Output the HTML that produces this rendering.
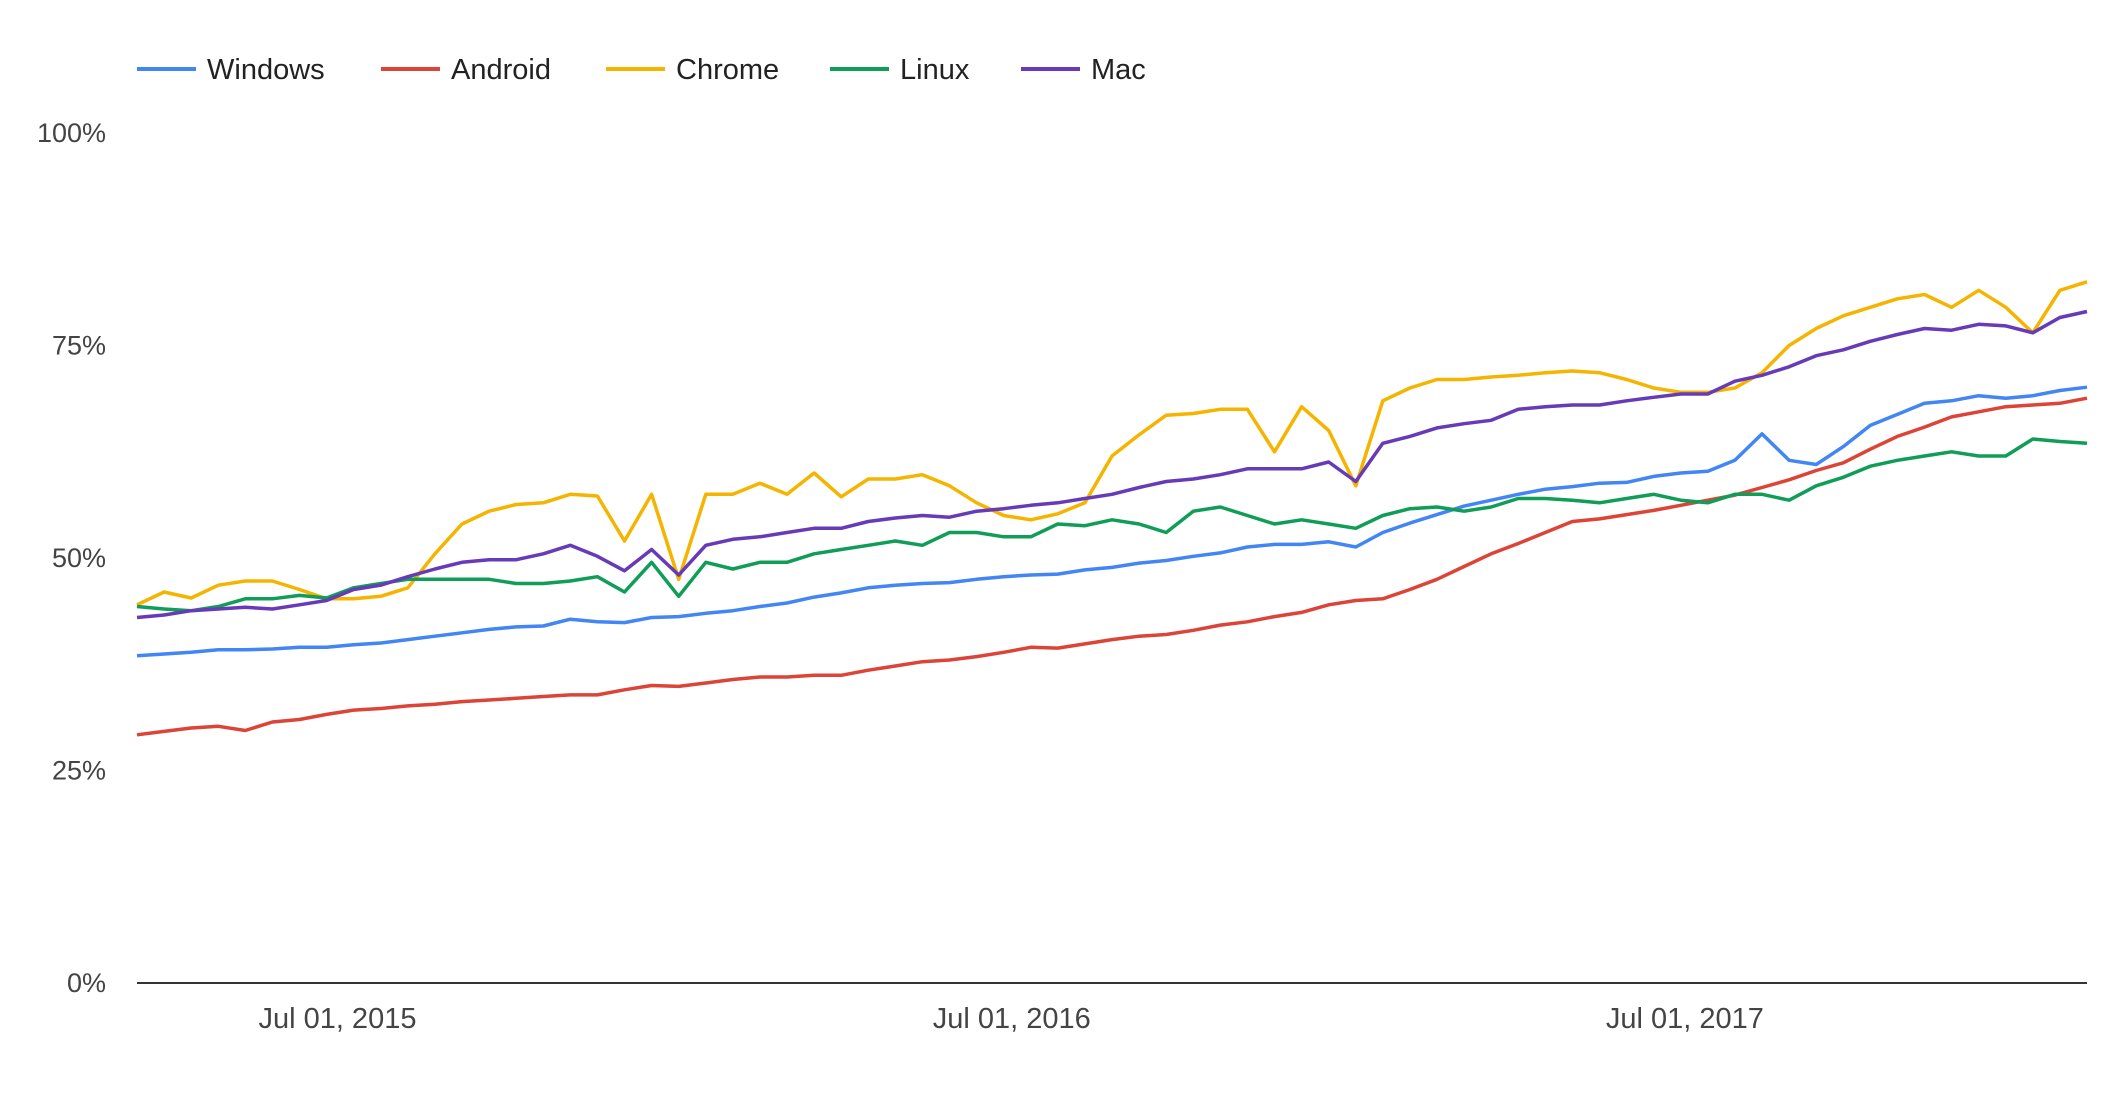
<!DOCTYPE html>
<html><head><meta charset="utf-8"><style>
html,body{margin:0;padding:0;background:#fff;}
svg{display:block;font-family:"Liberation Sans",sans-serif;}
</style></head><body>
<svg id="chart" width="2124" height="1100" viewBox="0 0 2124 1100">
<g id="legend"></g>
<g id="yaxis"></g>
<g id="xaxis"></g>
<g id="series"></g>
</svg>
<script>
const seriesNames = ["Windows","Android","Chrome","Linux","Mac"];
const seriesColors = ["#4285F4","#DB4437","#F4B400","#0F9D58","#673AB7"];
const windows = [38.5,38.7,38.9,39.2,39.2,39.3,39.5,39.5,39.8,40.0,40.4,40.8,41.2,41.6,41.9,42.0,42.8,42.5,42.4,43.0,43.1,43.5,43.8,44.3,44.7,45.4,45.9,46.5,46.8,47.0,47.1,47.5,47.8,48.0,48.1,48.6,48.9,49.4,49.7,50.2,50.6,51.3,51.6,51.6,51.9,51.3,53.0,54.1,55.1,56.1,56.8,57.5,58.1,58.4,58.8,58.9,59.6,60.0,60.2,61.5,64.6,61.5,61.0,63.1,65.6,66.9,68.2,68.5,69.1,68.8,69.1,69.7,70.1];
const android = [29.2,29.6,30.0,30.2,29.7,30.7,31.0,31.6,32.1,32.3,32.6,32.8,33.1,33.3,33.5,33.7,33.9,33.9,34.5,35.0,34.9,35.3,35.7,36.0,36.0,36.2,36.2,36.8,37.3,37.8,38.0,38.4,38.9,39.5,39.4,39.9,40.4,40.8,41.0,41.5,42.1,42.5,43.1,43.6,44.5,45.0,45.2,46.3,47.5,49.0,50.5,51.7,53.0,54.3,54.6,55.1,55.6,56.2,56.8,57.4,58.3,59.2,60.3,61.2,62.8,64.3,65.4,66.6,67.2,67.8,68.0,68.2,68.8];
const chrome = [44.5,46.0,45.3,46.8,47.3,47.3,46.3,45.2,45.2,45.5,46.5,50.5,54.0,55.5,56.3,56.5,57.5,57.3,52.0,57.5,47.5,57.5,57.5,58.8,57.5,60.0,57.2,59.3,59.3,59.8,58.5,56.5,55.0,54.5,55.2,56.5,62.0,64.5,66.8,67.0,67.5,67.5,62.5,67.8,65.0,58.5,68.5,70.0,71.0,71.0,71.3,71.5,71.8,72.0,71.8,71.0,70.0,69.5,69.5,70.0,71.8,75.0,77.0,78.5,79.5,80.5,81.0,79.5,81.5,79.5,76.5,81.5,82.5];
const linux = [44.3,44.0,43.8,44.3,45.2,45.2,45.6,45.3,46.5,47.0,47.5,47.5,47.5,47.5,47.0,47.0,47.3,47.8,46.0,49.5,45.5,49.5,48.7,49.5,49.5,50.5,51.0,51.5,52.0,51.5,53.0,53.0,52.5,52.5,54.0,53.8,54.5,54.0,53.0,55.5,56.0,55.0,54.0,54.5,54.0,53.5,55.0,55.8,56.0,55.5,56.0,57.0,57.0,56.8,56.5,57.0,57.5,56.8,56.5,57.5,57.5,56.8,58.5,59.5,60.8,61.5,62.0,62.5,62.0,62.0,64.0,63.7,63.5];
const mac = [43.0,43.3,43.8,44.0,44.2,44.0,44.5,45.0,46.3,46.8,47.8,48.7,49.5,49.8,49.8,50.5,51.5,50.2,48.5,51.0,48.0,51.5,52.2,52.5,53.0,53.5,53.5,54.3,54.7,55.0,54.8,55.5,55.8,56.2,56.5,57.0,57.5,58.3,59.0,59.3,59.8,60.5,60.5,60.5,61.3,59.0,63.5,64.3,65.3,65.8,66.2,67.5,67.8,68.0,68.0,68.5,68.9,69.3,69.3,70.8,71.5,72.5,73.8,74.5,75.5,76.3,77.0,76.8,77.5,77.3,76.5,78.3,79.0];
const yTicks = [0,25,50,75,100];
const xTickLabels = ["Jul 01, 2015","Jul 01, 2016","Jul 01, 2017"];
const xTickFrac = [0.1028,0.4486,0.7938];

const allSeries = [windows,android,chrome,linux,mac];
const L=137,R=2087,T=133,B=983;
const NS="http://www.w3.org/2000/svg";
function yScale(v){return B-(v/100)*(B-T);}
function xScale(i,n){return L+i*(R-L)/(n-1);}
function mk(tag,attrs,parent){const e=document.createElementNS(NS,tag);for(const k in attrs)e.setAttribute(k,attrs[k]);parent.appendChild(e);return e;}

const yg=document.getElementById('yaxis');
yTicks.forEach(t=>{
  const tx=mk('text',{x:106,y:yScale(t)+9,'text-anchor':'end','font-size':27,fill:'#444'},yg);
  tx.textContent=t+'%';
  
  
});
const xg=document.getElementById('xaxis');
const base=mk('line',{x1:L,x2:R,y1:B,y2:B,stroke:'#333','stroke-width':2},xg);


xTickLabels.forEach((s,i)=>{
  const tx=mk('text',{x:L+xTickFrac[i]*(R-L),y:1028,'text-anchor':'middle','font-size':29,fill:'#444'},xg);
  tx.textContent=s;
  
  
});
const sg=document.getElementById('series');
allSeries.forEach((arr,si)=>{
  const pts=arr.map((v,i)=>xScale(i,arr.length).toFixed(1)+','+yScale(v).toFixed(1)).join(' ');
  const pl=mk('polyline',{points:pts,fill:'none',stroke:seriesColors[si],'stroke-width':3.5,'stroke-linejoin':'round'},sg);
  
  
});
const lg=document.getElementById('legend');
const legX=[137,381,606,830,1021];
seriesNames.forEach((n,i)=>{
  const g=mk('g',{},lg);
  
  
  mk('line',{x1:legX[i],x2:legX[i]+59,y1:69,y2:69,stroke:seriesColors[i],'stroke-width':4},g);
  const t=mk('text',{x:legX[i]+70,y:79,'font-size':29,fill:'#222'},g);
  t.textContent=n;
});
</script>
</body></html>
